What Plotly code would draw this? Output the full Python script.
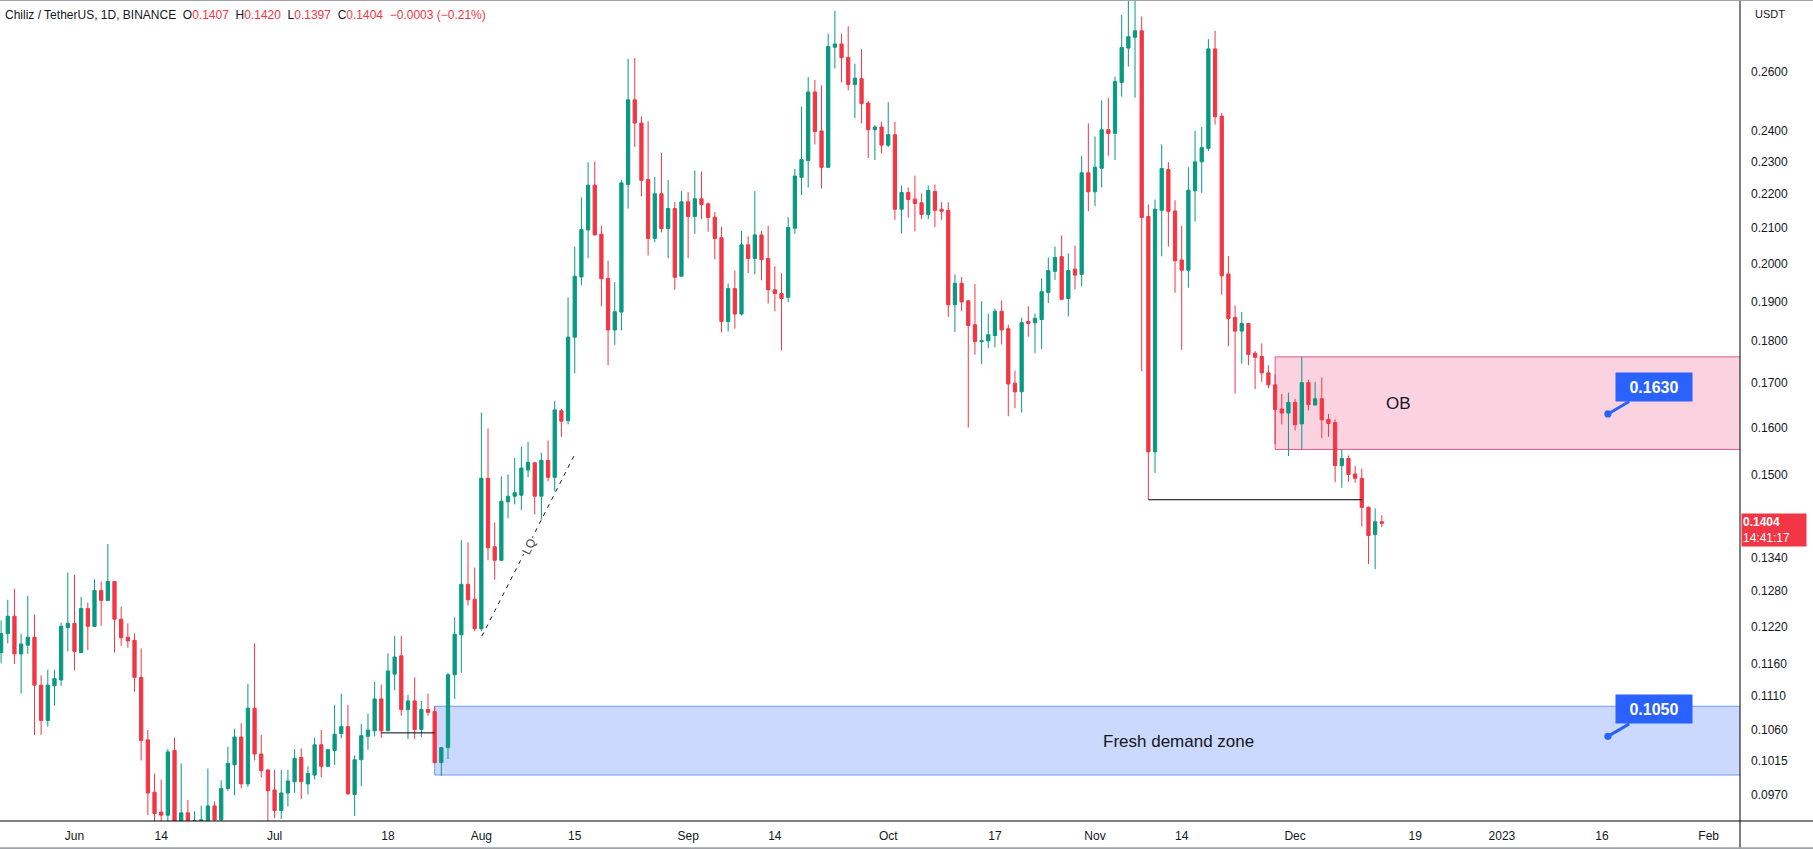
import math
import pandas as pd
import plotly.graph_objects as go

GREEN = "#089981"
RED = "#F23645"
BLUE = "#2962FF"
TEXT = "#131722"
FONT = "Liberation Sans"

# ---------------- data: CHZ/USDT daily, 2022-05-21 .. 2022-12-14 ----------------
dates = pd.date_range("2022-05-21", "2022-12-14", freq="D")

opens = [
    .1177, .1208, .1237, .1175, .1189, .1202, .1126, .1073, .1125, .1134,
    .1218, .1225, .1177, .1250, .1220, .1281, .1264, .1297, .1232, .1202,
    .1197, .1138, .1045, .0973, .0947, .0943, .1030, .0932, .0946, .0932,
    .0933, .0936, .0955, .0937, .0978, .1010, .1049, .0984, .1091, .1025,
    .1003, .0976, .0949, .0972, .0987, .1020, .0984, .0996, .1038, .1008,
    .1030, .1054, .1064, .0970, .1017, .1050, .1058, .1105, .1058, .1143,
    .1172, .1089, .1102, .1060, .1089, .1086, .1013, .1034, .1142, .1206,
    .1292, .1266, .1216, .1493, .1360, .1335, .1446, .1457, .1459, .1510,
    .1525, .1457, .1530, .1495, .1637, .1615, .1810, .1965, .2095, .2227,
    .2083, .1961, .1828, .1873, .2229, .2502, .2424, .2244, .2071, .2201,
    .2099, .2157, .1967, .2177, .2134, .2186, .2171, .2132, .2073, .1849,
    .1934, .1868, .2053, .2015, .2081, .2015, .1931, .1921, .1911, .2100,
    .2251, .2303, .2529, .2398, .2282, .2688, .2700, .2651, .2555, .2575,
    .2491, .2402, .2411, .2352, .2386, .2155, .2205, .2185, .2174, .2140,
    .2208, .2155, .2152, .1892, .1948, .1902, .1841, .1799, .1801, .1814,
    .1875, .1831, .1700, .1680, .1849, .1846, .1854, .1924, .1980, .2020,
    .1908, .1986, .1972, .2265, .2207, .2279, .2402, .2390, .2562, .2685,
    .2725, .2749, .2134, .1548, .2152, .2275, .2150, .2011, .1983, .2210,
    .2299, .2342, .2682, .2447, .1973, .1859, .1825, .1844, .1771, .1763,
    .1724, .1696, .1641, .1632, .1656, .1608, .1701, .1650, .1664, .1618,
    .1611, .1519, .1534, .1502, .1493, .1435, .1383, .1407,
]
highs = [
    .1230, .1265, .1284, .1208, .1272, .1240, .1141, .1150, .1150, .1226,
    .1313, .1309, .1270, .1260, .1301, .1297, .1365, .1297, .1253, .1225,
    .1208, .1184, .1059, .0998, .0990, .1032, .1048, .1012, .0963, .0948,
    .0955, .1005, .0961, .0989, .1035, .1061, .1069, .1128, .1192, .1052,
    .1004, .1003, .1003, .1003, .1032, .1033, .1008, .1048, .1059, .1032,
    .1096, .1113, .1096, .1023, .1068, .1083, .1131, .1127, .1176, .1204,
    .1204, .1111, .1138, .1102, .1113, .1094, .1035, .1145, .1235, .1372,
    .1368, .1322, .1633, .1598, .1406, .1497, .1501, .1535, .1559, .1569,
    .1527, .1546, .1572, .1659, .1641, .1911, .2048, .2190, .2298, .2300,
    .2107, .2009, .1951, .2243, .2646, .2649, .2446, .2430, .2252, .2327,
    .2243, .2177, .2209, .2206, .2272, .2269, .2175, .2147, .2104, .1948,
    .1982, .2092, .2077, .2209, .2092, .2107, .1994, .1975, .2132, .2277,
    .2479, .2581, .2571, .2552, .2738, .2825, .2738, .2766, .2628, .2681,
    .2498, .2417, .2428, .2494, .2428, .2226, .2220, .2256, .2202, .2226,
    .2229, .2176, .2176, .1972, .1965, .1904, .1946, .1901, .1869, .1882,
    .1903, .1841, .1729, .1859, .1888, .1869, .1961, .2018, .2048, .2079,
    .2029, .2051, .2318, .2423, .2380, .2500, .2509, .2582, .2810, .2900,
    .2880, .2803, .2169, .2184, .2354, .2298, .2182, .2107, .2282, .2399,
    .2411, .2718, .2749, .2457, .2022, .1890, .1873, .1844, .1776, .1795,
    .1742, .1720, .1675, .1678, .1664, .1762, .1708, .1703, .1713, .1630,
    .1618, .1553, .1540, .1518, .1513, .1437, .1433, .1420,
]
lows = [
    .1160, .1192, .1159, .1113, .1175, .1052, .1052, .1064, .1095, .1125,
    .1179, .1149, .1177, .1181, .1219, .1221, .1263, .1177, .1188, .1185,
    .1116, .1016, .0943, .0920, .0925, .0928, .0922, .0925, .0925, .0920,
    .0922, .0930, .0930, .0932, .0975, .0969, .0978, .0980, .1016, .0993,
    .0935, .0939, .0938, .0954, .0972, .0964, .0970, .0990, .0993, .1007,
    .1010, .1047, .0969, .0942, .0981, .1031, .1050, .1048, .1058, .1118,
    .1080, .1046, .1046, .1049, .1080, .1013, .0995, .1018, .1105, .1145,
    .1255, .1212, .1212, .1335, .1300, .1335, .1414, .1441, .1430, .1495,
    .1421, .1411, .1487, .1467, .1580, .1607, .1723, .1943, .2016, .2079,
    .1888, .1742, .1791, .1827, .2157, .2346, .2193, .2023, .2060, .2088,
    .2016, .1931, .1967, .2016, .2084, .2126, .2090, .2013, .1822, .1824,
    .1831, .1864, .1975, .1972, .1956, .1895, .1875, .1778, .1899, .2084,
    .2197, .2220, .2354, .2217, .2282, .2611, .2562, .2534, .2440, .2423,
    .2311, .2305, .2326, .2346, .2124, .2085, .2131, .2091, .2126, .2126,
    .2103, .2124, .1861, .1823, .1875, .1600, .1767, .1745, .1783, .1785,
    .1792, .1625, .1643, .1633, .1811, .1771, .1781, .1896, .1957, .1906,
    .1862, .1932, .1940, .2149, .2164, .2220, .2318, .2305, .2513, .2618,
    .2509, .1728, .1450, .1504, .2021, .2048, .1923, .1779, .1936, .2119,
    .2204, .2333, .2419, .1918, .1788, .1676, .1746, .1742, .1686, .1703,
    .1688, .1564, .1607, .1539, .1594, .1553, .1638, .1650, .1577, .1580,
    .1485, .1474, .1486, .1484, .1398, .1328, .1319, .1397,
]
closes = [
    .1208, .1237, .1175, .1191, .1202, .1126, .1073, .1126, .1136, .1220,
    .1225, .1179, .1250, .1220, .1281, .1264, .1297, .1232, .1201, .1196,
    .1138, .1044, .0972, .0945, .0943, .1028, .0932, .0946, .0936, .0936,
    .0937, .0955, .0937, .0978, .1012, .1049, .0984, .1091, .1025, .1002,
    .0975, .0949, .0972, .0988, .1019, .0987, .0998, .1038, .1008, .1031,
    .1053, .1064, .0971, .1017, .1051, .1059, .1105, .1058, .1148, .1170,
    .1089, .1102, .1060, .1089, .1085, .1013, .1034, .1142, .1207, .1292,
    .1265, .1216, .1493, .1358, .1335, .1447, .1457, .1464, .1514, .1526,
    .1457, .1530, .1495, .1639, .1614, .1810, .1967, .2096, .2227, .2081,
    .1960, .1828, .1874, .2234, .2502, .2424, .2242, .2071, .2201, .2099,
    .2157, .1964, .2177, .2134, .2186, .2169, .2131, .2071, .1849, .1934,
    .1868, .2053, .2015, .2081, .2012, .1931, .1921, .1908, .2102, .2255,
    .2306, .2529, .2396, .2282, .2691, .2700, .2650, .2555, .2577, .2489,
    .2402, .2411, .2352, .2386, .2155, .2205, .2184, .2172, .2140, .2211,
    .2152, .2149, .1892, .1948, .1899, .1839, .1799, .1801, .1816, .1875,
    .1828, .1698, .1680, .1846, .1844, .1857, .1926, .1982, .2018, .1906,
    .1982, .1970, .2265, .2207, .2282, .2402, .2390, .2565, .2687, .2727,
    .2749, .2131, .1548, .2155, .2278, .2149, .2009, .1983, .2212, .2299,
    .2344, .2682, .2445, .1968, .1857, .1825, .1844, .1768, .1761, .1724,
    .1696, .1640, .1632, .1656, .1606, .1701, .1651, .1664, .1617, .1609,
    .1519, .1534, .1501, .1493, .1435, .1381, .1407, .1404,
]

price_ticks = [0.2600, 0.2400, 0.2300, 0.2200, 0.2100, 0.2000, 0.1900, 0.1800, 0.1700, 0.1600,
               0.1500, 0.1340, 0.1280, 0.1220, 0.1160, 0.1110, 0.1060, 0.1015, 0.0970]
date_ticks = ["2022-06-01", "2022-06-14", "2022-07-01", "2022-07-18", "2022-08-01", "2022-08-15",
              "2022-09-01", "2022-09-14", "2022-10-01", "2022-10-17", "2022-11-01", "2022-11-14",
              "2022-12-01", "2022-12-19", "2023-01-01", "2023-01-16", "2023-02-01"]
date_labels = ["Jun", "14", "Jul", "18", "Aug", "15", "Sep", "14", "Oct", "17", "Nov", "14",
               "Dec", "19", "2023", "16", "Feb"]

# drawings
ob_zone = [0.1553, 0.1762]
demand_zone = [0.0996, 0.1094]
ob_level = 0.1630
demand_level = 0.1050
nov_low = 0.1450
jul_low = 0.1055
lq_prices = [0.1204, 0.1539]

# ---------------- figure ----------------
fig = go.Figure()
fig.add_trace(go.Candlestick(
    x=dates, open=opens, high=highs, low=lows, close=closes,
    increasing=dict(line=dict(color=GREEN, width=1), fillcolor=GREEN),
    decreasing=dict(line=dict(color=RED, width=1), fillcolor=RED),
    whiskerwidth=0, hoverinfo="skip", showlegend=False))

# zones
fig.add_shape(type="rect", xref="x", yref="y", x0="2022-11-28", x1="2023-04-01",
              y0=ob_zone[0], y1=ob_zone[1], fillcolor="rgba(233,30,99,0.2)",
              line=dict(color="rgba(220,40,110,0.75)", width=1), layer="below")
fig.add_shape(type="rect", xref="x", yref="y", x0="2022-07-25", x1="2023-04-01",
              y0=demand_zone[0], y1=demand_zone[1], fillcolor="rgba(41,98,255,0.24)",
              line=dict(color="rgba(41,98,255,0.6)", width=1), layer="below")

# liquidity levels
fig.add_trace(go.Scatter(x=["2022-11-09", "2022-12-11"], y=[nov_low, nov_low], mode="lines",
                         line=dict(color="black", width=1), hoverinfo="skip", showlegend=False))
fig.add_trace(go.Scatter(x=["2022-07-17", "2022-07-25"], y=[jul_low, jul_low], mode="lines",
                         line=dict(color="black", width=1), hoverinfo="skip", showlegend=False))
fig.add_trace(go.Scatter(x=["2022-08-01 02:00", "2022-08-14 21:00"], y=lq_prices, mode="lines",
                         line=dict(color=TEXT, width=1, dash="4px,5px"), hoverinfo="skip",
                         showlegend=False))

L = math.log10
annotations = [
    dict(x="2022-08-08 02:00", y=L(0.1360), text="LQ", showarrow=False, textangle=-63,
         font=dict(size=12, color="#444"), bgcolor="white"),
    dict(x="2022-12-16 12:00", y=L(0.1654), text="OB", showarrow=False,
         font=dict(size=17, color=TEXT)),
    dict(x="2022-11-13 12:00", y=L(0.1043), text="Fresh demand zone", showarrow=False,
         font=dict(size=17, color=TEXT)),
]
for lvl in (ob_level, demand_level):
    annotations.append(dict(
        x="2023-01-16 21:36", y=L(lvl), text="<b>%.4f</b>" % lvl, showarrow=True,
        ax=46, ay=-27, axref="pixel", ayref="pixel", arrowcolor=BLUE, arrowwidth=3,
        arrowhead=6, arrowsize=0.6, bgcolor=BLUE, width=74, height=26,
        font=dict(size=16, color="white")))

# header
o, h, lo, c = opens[-1], highs[-1], lows[-1], closes[-1]
chg = c - closes[-2]
pct = chg / closes[-2] * 100
red = lambda s: "<span style='color:%s'>%s</span>" % (RED, s)
fmt = lambda v: ("\u2212%.4f" % -v) if v < 0 else "%.4f" % v
header = ("Chiliz / TetherUS, 1D, BINANCE&nbsp;&nbsp;O" + red("%.4f" % o) + "&nbsp;&nbsp;H" + red("%.4f" % h)
          + "&nbsp;&nbsp;L" + red("%.4f" % lo) + "&nbsp;&nbsp;C" + red("%.4f" % c) + "&nbsp;&nbsp;"
          + red("%s (\u2212%.2f%%)" % (fmt(chg), abs(pct))))
annotations.append(dict(xref="paper", yref="paper", x=0, y=1, xshift=3, yshift=-15,
                        xanchor="left", yanchor="middle", text=header, showarrow=False,
                        font=dict(size=12, color=TEXT)))
annotations.append(dict(xref="paper", yref="paper", x=1, y=1, xshift=13, yshift=-14,
                        xanchor="left", yanchor="middle", text="USDT", showarrow=False,
                        font=dict(size=11, color=TEXT)))
# last price label
annotations.append(dict(xref="paper", yref="y", x=1, y=L(c), xshift=1, yshift=-7,
                        xanchor="left", yanchor="middle", showarrow=False,
                        text="<b>%.4f</b><br>14:41:17" % c, align="left", width=62, height=30,
                        bgcolor=RED, font=dict(size=12, color="white")))

# frame lines
bottom = -28 / 821
right = 1813 / 1740
fig.add_shape(type="line", xref="paper", yref="paper", x0=0, x1=right, y0=0, y1=0,
              line=dict(color="black", width=1))
fig.add_shape(type="line", xref="paper", yref="paper", x0=1, x1=1, y0=bottom, y1=1,
              line=dict(color="black", width=1))
fig.add_shape(type="line", xref="paper", yref="paper", x0=0, x1=right, y0=1, y1=1,
              line=dict(color="#a0a3ab", width=2))
fig.add_shape(type="line", xref="paper", yref="paper", x0=0, x1=right, y0=bottom + 0.001,
              y1=bottom + 0.001, line=dict(color="#a0a3ab", width=2))

fig.update_layout(
    width=1813, height=849,
    margin=dict(l=0, r=73, t=0, b=28),
    paper_bgcolor="white", plot_bgcolor="white",
    font=dict(family=FONT, size=12, color=TEXT),
    showlegend=False,
    annotations=annotations,
    xaxis=dict(type="date", range=["2022-05-20 20:00", "2023-02-05 16:48"],
               rangeslider=dict(visible=False), showgrid=False, zeroline=False,
               tickvals=date_ticks, ticktext=date_labels, ticks="", showline=False,
               tickfont=dict(size=12, color=TEXT), automargin=False, ticklabelstandoff=6),
    yaxis=dict(type="log", side="right", range=[L(0.09355), L(0.2867)],
               tickvals=price_ticks, ticktext=["%.4f" % v for v in price_ticks],
               showgrid=False, zeroline=False, ticks="", showline=False,
               tickfont=dict(size=12, color=TEXT), automargin=False, ticklabelstandoff=10),
)

fig.write_html("out.html", config={"displayModeBar": False},
               post_script="document.body.style.margin='0';document.body.style.overflow='hidden';")
